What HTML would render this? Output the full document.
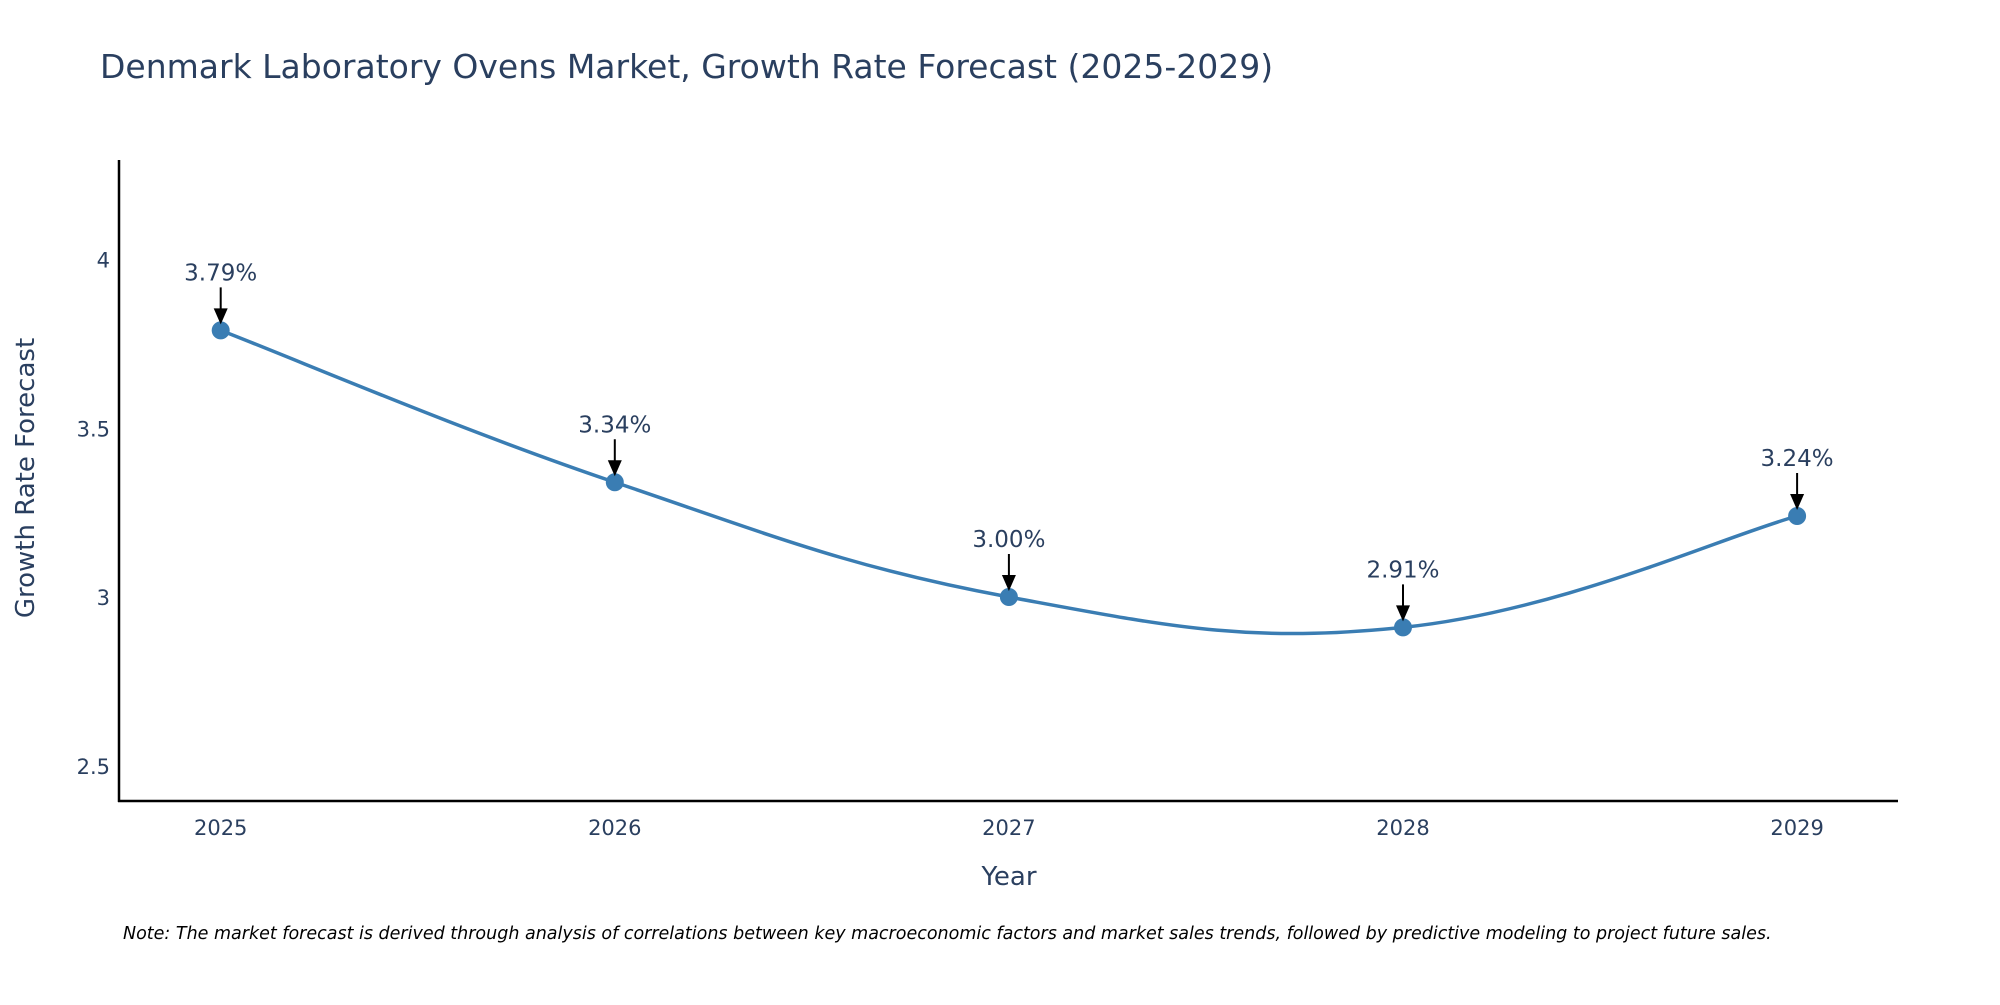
<!DOCTYPE html>
<html><head><meta charset="utf-8"><style>
body{margin:0;background:#fff;overflow:hidden;}
svg text{font-family:"DejaVu Sans","Liberation Sans",sans-serif;fill:#2a3f5f;}
</style></head><body>
<svg id="chart" width="2000" height="1000" xmlns="http://www.w3.org/2000/svg">
<text x="100" y="78" font-size="33">Denmark Laboratory Ovens Market, Growth Rate Forecast (2025-2029)</text>
<line x1="119" y1="160" x2="119" y2="802" stroke="#000" stroke-width="2.5"/>
<line x1="118" y1="801" x2="1898" y2="801" stroke="#000" stroke-width="2.5"/>
<g id="yticks"></g><g id="xticks"></g>
<text transform="translate(34,478) rotate(-90)" text-anchor="middle" font-size="26">Growth Rate Forecast</text>
<text x="1009" y="885" text-anchor="middle" font-size="26">Year</text>
<path id="line" fill="none" stroke="#3a7db3" stroke-width="3.5"/>
<g id="pts"></g>
<text x="123" y="939" font-size="17.5" font-style="italic" style="fill:#000">Note: The market forecast is derived through analysis of correlations between key macroeconomic factors and market sales trends, followed by predictive modeling to project future sales.</text>
</svg>
<script>
const years=[2025,2026,2027,2028,2029];
const values=[3.79,3.34,3.00,2.91,3.24];
const labels=["3.79%","3.34%","3.00%","2.91%","3.24%"];
const yTicks=[2.5,3,3.5,4];
const NS="http://www.w3.org/2000/svg";
function X(v){return 220.7+(v-2025)*394.1;}
function Y(v){return 597-(v-3)*337.5;}
function mk(t,a,p){const e=document.createElementNS(NS,t);for(const k in a)e.setAttribute(k,a[k]);p.appendChild(e);return e;}
const yt=document.getElementById('yticks');
yTicks.forEach(t=>{const e=mk('text',{x:110,y:Y(t)+8,'text-anchor':'end','font-size':21},yt);


e.textContent=t;});
const xt=document.getElementById('xticks');
years.forEach(t=>{const e=mk('text',{x:X(t),y:835,'text-anchor':'middle','font-size':21},xt);


e.textContent=t;});
const P=years.map((y,i)=>[X(y),Y(values[i])]);
let d=`M${P[0][0]},${P[0][1]}`;const s=0.2;
for(let i=0;i<P.length-1;i++){const p0=P[Math.max(i-1,0)],p1=P[i],p2=P[i+1],p3=P[Math.min(i+2,P.length-1)];
d+=` C${p1[0]+(p2[0]-p0[0])*s},${p1[1]+(p2[1]-p0[1])*s} ${p2[0]-(p3[0]-p1[0])*s},${p2[1]-(p3[1]-p1[1])*s} ${p2[0]},${p2[1]}`;}
document.getElementById('line').setAttribute('d',d);
const pts=document.getElementById('pts');
P.forEach((p,i)=>{const c=mk('circle',{cx:p[0],cy:p[1],r:9,fill:'#3a7db3'},pts);


const a=mk('line',{x1:p[0],y1:p[1]-43,x2:p[0],y2:p[1]-20,stroke:'#000','stroke-width':2},pts);


const h=mk('polygon',{points:`${p[0]-7},${p[1]-22} ${p[0]+7},${p[1]-22} ${p[0]},${p[1]-6}`,fill:'#000'},pts);


const t=mk('text',{x:p[0],y:p[1]-50,'text-anchor':'middle','font-size':23},pts);


t.textContent=labels[i];});
</script>
</body></html>
